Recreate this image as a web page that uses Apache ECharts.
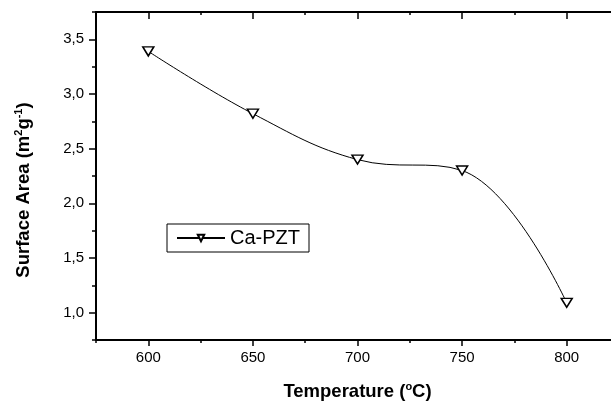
<!DOCTYPE html>
<html>
<head>
<meta charset="utf-8">
<script src="https://cdn.jsdelivr.net/npm/echarts@6/dist/echarts.min.js"></script>
<style>
  html, body { margin: 0; padding: 0; background: #fff; }
  #container { width: 611px; height: 401px; }
</style>
</head>
<body>
<div id="container"></div>
<script>
var temps = [600, 650, 700, 750, 800];
var surfaceArea = [3.39, 2.82, 2.40, 2.30, 1.09];
var xMajorTicks = [600, 650, 700, 750, 800];
var yMajorTicks = [1.0, 1.5, 2.0, 2.5, 3.0, 3.5];

(function(){
    var dom = document.getElementById("container");
    var myChart = echarts.init(dom);
    var font = 'Liberation Sans, Arial, sans-serif';
    var black = '#000';

    var seriesData = temps.map(function (t, i) { return [t, surfaceArea[i]]; });

    var nameRich = {
        b: { fontSize: 18.5, fontWeight: 'bold', fontFamily: font, color: black, lineHeight: 22 },
        s: { fontSize: 11, fontWeight: 'bold', fontFamily: font, color: black, verticalAlign: 'top', lineHeight: 12 }
    };

    function xAxisBase(pos) {
        return {
            type: 'value',
            position: pos,
            min: 575,
            max: 825,
            interval: 25,
            splitLine: { show: false },
            axisLine: { show: true, onZero: false, lineStyle: { color: black, width: 2 } },
            axisLabel: { show: false },
            axisTick: { show: true, inside: pos === 'top', length: 3, lineStyle: { color: black, width: 1.5 } }
        };
    }
    function yAxisBase() {
        return {
            type: 'value',
            position: 'left',
            min: 0.75,
            max: 3.75,
            interval: 0.25,
            splitLine: { show: false },
            axisLine: { show: true, onZero: false, lineStyle: { color: black, width: 2 } },
            axisLabel: { show: false },
            axisTick: { show: true, length: 4, lineStyle: { color: black, width: 1.5 } }
        };
    }

    // bottom axis: minor ticks + labels
    var xBottom = xAxisBase('bottom');
    xBottom.axisLabel = {
        show: true, color: black, fontSize: 15, fontFamily: font, margin: 10,
        customValues: xMajorTicks,
        formatter: function (v) { return String(v); }
    };
    xBottom.name = '{b|Temperature (}{s|o}{b|C)}';
    xBottom.nameLocation = 'middle';
    xBottom.nameGap = 41;
    xBottom.nameTextStyle = { rich: nameRich };
    // bottom axis: major ticks
    var xBottomMajor = xAxisBase('bottom');
    xBottomMajor.axisLine = { show: false };
    xBottomMajor.axisTick = { show: true, length: 6, customValues: xMajorTicks, lineStyle: { color: black, width: 1.5 } };
    // top axis
    var xTop = xAxisBase('top');
    var xTopMajor = xAxisBase('top');
    xTopMajor.axisLine = { show: false };
    xTopMajor.axisTick = { show: true, inside: true, length: 7, customValues: xMajorTicks, lineStyle: { color: black, width: 1.5 } };

    var yLeft = yAxisBase();
    yLeft.axisLabel = {
        show: true, color: black, fontSize: 15, fontFamily: font, margin: 12,
        customValues: yMajorTicks,
        formatter: function (v) { return v.toFixed(1).replace('.', ','); }
    };
    yLeft.name = '{b|Surface Area (m}{s|2}{b|g}{s|-1}{b|)}';
    yLeft.nameLocation = 'middle';
    yLeft.nameRotate = 90;
    yLeft.nameGap = 61;
    yLeft.nameTextStyle = { rich: nameRich, padding: [0, 28, 0, 0] };
    var yLeftMajor = yAxisBase();
    yLeftMajor.axisLine = { show: false };
    yLeftMajor.axisTick = { show: true, length: 7, customValues: yMajorTicks, lineStyle: { color: black, width: 1.5 } };

    var option = {
        backgroundColor: '#fff',
        animation: false,
        grid: { left: 96, top: 12, right: -8, bottom: 61, outerBoundsMode: 'none' },
        legend: {
            left: 167,
            top: 224,
            orient: 'horizontal',
            borderColor: black,
            borderWidth: 1,
            padding: [4, 9, 4, 9],
            itemWidth: 48,
            itemHeight: 8,
            itemGap: 4,
            textStyle: { fontSize: 20, fontFamily: font, color: black },
            data: ['Ca-PZT']
        },
        xAxis: [xBottom, xBottomMajor, xTop, xTopMajor],
        yAxis: [yLeft, yLeftMajor],
        series: [
            {
                name: 'Ca-PZT',
                type: 'line',
                xAxisIndex: 0,
                yAxisIndex: 0,
                smooth: 0.4,
                symbol: 'path://M0,0L10,0L5,9Z',
                symbolSize: [11, 9],
                itemStyle: { color: '#fff', borderColor: black, borderWidth: 1.5 },
                lineStyle: { color: black, width: 1 },
                data: seriesData
            }
        ]
    };
    myChart.setOption(option, true);
})();
</script>
</body>
</html>
